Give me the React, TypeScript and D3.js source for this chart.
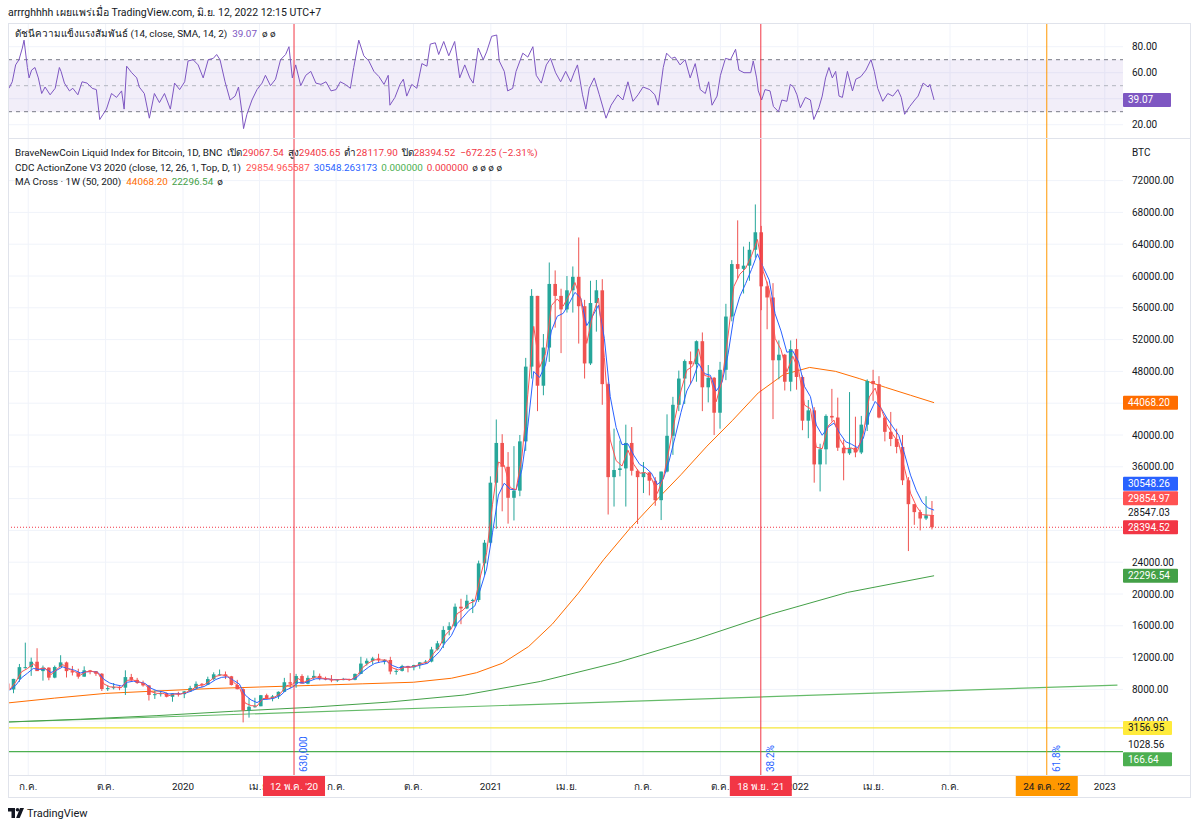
import React from 'react';
import * as d3 from 'd3';

// weekly OHLC: week start, open, high, low, close
const candles: [string, number, number, number, number][] = [
  ["2019-06-03", 8740, 8840, 7450, 7990], ["2019-06-10", 7990, 9330, 7520, 9320],
  ["2019-06-17", 9320, 11200, 8950, 10800], ["2019-06-24", 10800, 13880, 10600, 10800],
  ["2019-07-01", 10800, 12000, 9700, 11480], ["2019-07-08", 11480, 13180, 10400, 10300],
  ["2019-07-15", 10300, 11000, 9100, 10740], ["2019-07-22", 10740, 10780, 9150, 9480],
  ["2019-07-29", 9480, 11000, 9400, 10820], ["2019-08-05", 10820, 12300, 10800, 11400],
  ["2019-08-12", 11400, 11500, 9500, 10300], ["2019-08-19", 10300, 10950, 9750, 10130],
  ["2019-08-26", 10130, 10600, 9350, 9600], ["2019-09-02", 9600, 10900, 9600, 10400],
  ["2019-09-09", 10400, 10450, 9900, 10300], ["2019-09-16", 10300, 10300, 9700, 9970],
  ["2019-09-23", 9970, 10050, 7800, 8050], ["2019-09-30", 8050, 8500, 7800, 8160],
  ["2019-10-07", 8160, 8800, 8000, 8280], ["2019-10-14", 8280, 8400, 7900, 8220],
  ["2019-10-21", 8220, 10400, 7300, 9550], ["2019-10-28", 9550, 9950, 8950, 9200],
  ["2019-11-04", 9200, 9450, 8700, 8800], ["2019-11-11", 8800, 9100, 8350, 8500],
  ["2019-11-18", 8500, 8550, 6600, 7300], ["2019-11-25", 7300, 7850, 6800, 7400],
  ["2019-12-02", 7400, 7800, 7100, 7520], ["2019-12-09", 7520, 7600, 7000, 7070],
  ["2019-12-16", 7070, 7500, 6450, 7500], ["2019-12-23", 7500, 7700, 7100, 7400],
  ["2019-12-30", 7400, 7800, 6900, 7750], ["2020-01-06", 7750, 8450, 7700, 8180],
  ["2020-01-13", 8180, 9000, 8100, 8700], ["2020-01-20", 8700, 8800, 8250, 8600],
  ["2020-01-27", 8600, 9600, 8550, 9300], ["2020-02-03", 9300, 10150, 9150, 9900],
  ["2020-02-10", 9900, 10500, 9700, 9900], ["2020-02-17", 9900, 10250, 9300, 9650],
  ["2020-02-24", 9650, 9700, 8500, 8550], ["2020-03-02", 8550, 9200, 8000, 8030],
  ["2020-03-09", 8030, 8150, 3850, 5360], ["2020-03-16", 5360, 6900, 4450, 5820],
  ["2020-03-23", 5820, 6950, 5700, 5880], ["2020-03-30", 5880, 7300, 5880, 7270],
  ["2020-04-06", 7270, 7460, 6750, 6860], ["2020-04-13", 6860, 7300, 6500, 7120],
  ["2020-04-20", 7120, 7750, 6800, 7700], ["2020-04-27", 7700, 9450, 7700, 8900],
  ["2020-05-04", 8900, 10050, 8150, 8720], ["2020-05-11", 8720, 9950, 8200, 9680],
  ["2020-05-18", 9680, 9900, 8800, 8720], ["2020-05-25", 8720, 9750, 8650, 9450],
  ["2020-06-01", 9450, 10400, 9300, 9700], ["2020-06-08", 9700, 9990, 9150, 9350],
  ["2020-06-15", 9350, 9600, 9150, 9300], ["2020-06-22", 9300, 9800, 8900, 9120],
  ["2020-06-29", 9120, 9300, 8950, 9250], ["2020-07-06", 9250, 9450, 9150, 9300],
  ["2020-07-13", 9300, 9350, 9050, 9200], ["2020-07-20", 9200, 10000, 9150, 9950],
  ["2020-07-27", 9950, 12100, 9950, 11250], ["2020-08-03", 11250, 11900, 11000, 11600],
  ["2020-08-10", 11600, 12100, 11150, 11900], ["2020-08-17", 11900, 12480, 11400, 11680],
  ["2020-08-24", 11680, 11800, 11150, 11700], ["2020-08-31", 11700, 12100, 9900, 10250],
  ["2020-09-07", 10250, 10600, 9850, 10330], ["2020-09-14", 10330, 11100, 10250, 10950],
  ["2020-09-21", 10950, 10970, 10150, 10770], ["2020-09-28", 10770, 11100, 10400, 11060],
  ["2020-10-05", 11060, 11450, 10600, 11400], ["2020-10-12", 11400, 11700, 11200, 11500],
  ["2020-10-19", 11500, 13350, 11400, 13030], ["2020-10-26", 13030, 14100, 12900, 13800],
  ["2020-11-02", 13800, 15950, 13200, 15480], ["2020-11-09", 15480, 16450, 14800, 15950],
  ["2020-11-16", 15950, 18800, 15800, 18400], ["2020-11-23", 18400, 19400, 16200, 18180],
  ["2020-11-30", 18180, 19900, 18100, 19150], ["2020-12-07", 19150, 19400, 17600, 19250],
  ["2020-12-14", 19250, 24200, 19000, 23850], ["2020-12-21", 23850, 26800, 22350, 26450],
  ["2020-12-28", 26450, 34800, 26100, 34000], ["2021-01-04", 34000, 41950, 28200, 39000],
  ["2021-01-11", 39000, 40100, 30400, 36000], ["2021-01-18", 36000, 37850, 28850, 32100],
  ["2021-01-25", 32100, 38600, 29250, 33000], ["2021-02-01", 33000, 40000, 32300, 39200],
  ["2021-02-08", 39200, 49700, 38000, 48600], ["2021-02-15", 48600, 58350, 47100, 57500],
  ["2021-02-22", 57500, 57500, 43000, 46200], ["2021-03-01", 46200, 52700, 45000, 51000],
  ["2021-03-08", 51000, 61700, 49200, 59000], ["2021-03-15", 59000, 60700, 53500, 57500],
  ["2021-03-22", 57500, 58400, 50300, 55800], ["2021-03-29", 55800, 60000, 55400, 58200],
  ["2021-04-05", 58200, 61200, 55400, 59900], ["2021-04-12", 59900, 64850, 51500, 56200],
  ["2021-04-19", 56200, 57000, 47100, 49000], ["2021-04-26", 49000, 59400, 48800, 56600],
  ["2021-05-03", 56600, 59500, 53000, 58200], ["2021-05-10", 58200, 59600, 43800, 46400],
  ["2021-05-17", 46400, 46600, 30000, 34700], ["2021-05-24", 34700, 40800, 31000, 35600],
  ["2021-05-31", 35600, 39300, 34800, 35800], ["2021-06-07", 35800, 41300, 31000, 39000],
  ["2021-06-14", 39000, 41000, 34900, 35500], ["2021-06-21", 35500, 35700, 28800, 34700],
  ["2021-06-28", 34700, 36600, 32700, 35300], ["2021-07-05", 35300, 35300, 32400, 34250],
  ["2021-07-12", 34250, 34700, 31100, 31800], ["2021-07-19", 31800, 35400, 29300, 35400],
  ["2021-07-26", 35400, 42600, 35300, 39900], ["2021-08-02", 39900, 44800, 37500, 43800],
  ["2021-08-09", 43800, 48100, 43000, 47100], ["2021-08-16", 47100, 49500, 43900, 49300],
  ["2021-08-23", 49300, 50500, 46400, 48900], ["2021-08-30", 48900, 51900, 46700, 51800],
  ["2021-09-06", 51800, 52900, 43000, 46000], ["2021-09-13", 46000, 48800, 44100, 47200],
  ["2021-09-20", 47200, 47300, 40000, 42800], ["2021-09-27", 42800, 49200, 40800, 48200],
  ["2021-10-04", 48200, 56500, 46900, 54900], ["2021-10-11", 54900, 62000, 54300, 61500],
  ["2021-10-18", 61500, 67000, 59700, 60900], ["2021-10-25", 60900, 63700, 57800, 61300],
  ["2021-11-01", 61300, 64300, 59400, 63300], ["2021-11-08", 63300, 69000, 62300, 65500],
  ["2021-11-15", 65500, 66300, 55700, 58700], ["2021-11-22", 58700, 59300, 53300, 57300],
  ["2021-11-29", 57300, 59100, 42000, 49400], ["2021-12-06", 49400, 51900, 47000, 50100],
  ["2021-12-13", 50100, 50200, 45600, 46700], ["2021-12-20", 46700, 51900, 45500, 50800],
  ["2021-12-27", 50800, 52100, 45700, 47300], ["2022-01-03", 47300, 47500, 40600, 41800],
  ["2022-01-10", 41800, 44400, 39600, 43100], ["2022-01-17", 43100, 43500, 34000, 36300],
  ["2022-01-24", 36300, 38900, 32900, 38200], ["2022-01-31", 38200, 42600, 36300, 42400],
  ["2022-02-07", 42400, 45800, 41700, 42200], ["2022-02-14", 42200, 44700, 38000, 38400],
  ["2022-02-21", 38400, 39400, 34300, 37700], ["2022-02-28", 37700, 45400, 37500, 38400],
  ["2022-03-07", 38400, 42300, 37200, 37800], ["2022-03-14", 37800, 42400, 37600, 41300],
  ["2022-03-21", 41300, 47000, 40500, 46800], ["2022-03-28", 46800, 48200, 44300, 46400],
  ["2022-04-04", 46400, 47400, 42100, 42200], ["2022-04-11", 42200, 42400, 39200, 40400],
  ["2022-04-18", 40400, 42900, 38600, 39500], ["2022-04-25", 39500, 40800, 37700, 38500],
  ["2022-05-02", 38500, 40000, 33700, 34300], ["2022-05-09", 34300, 34700, 25400, 31300],
  ["2022-05-16", 31300, 31300, 28700, 30300], ["2022-05-23", 30300, 30600, 28000, 29500],
  ["2022-05-30", 29500, 32300, 29300, 29900], ["2022-06-06", 29900, 31700, 28117.9, 28394.52],
];

// CDC ActionZone fast / slow EMA, value at each week's end
const cdcFast = [
  7990, 8910, 10210, 10620, 11210, 10580, 10690, 9860, 10520, 11130,
  10560, 10260, 9810, 10220, 10270, 10060, 8680, 8320, 8290, 8240,
  9150, 9180, 8920, 8630, 7710, 7500, 7510, 7210, 7410, 7400,
  7640, 8010, 8490, 8570, 9070, 9640, 9820, 9700, 8910, 8300,
  6270, 5960, 5910, 6850, 6860, 7040, 7500, 8460, 8640, 9360,
  8920, 9290, 9570, 9420, 9340, 9190, 9230, 9280, 9220, 9730,
  10780, 11350, 11730, 11700, 11700, 10700, 10450, 10790, 10780, 10970,
  11270, 11430, 12530, 13410, 14840, 15610, 17530, 17980, 18790, 19110,
  22380, 25190, 31270, 36600, 36190, 33370, 33110, 37310, 45100, 53660,
  48510, 50230, 56280, 57120, 56210, 57580, 59180, 57120, 51520, 55030,
  57220, 49750, 39370, 36770, 36100, 38100, 36310, 35200, 35270, 34570,
  32660, 34550, 38240, 42080, 45540, 48140, 48660, 50830, 47500, 47290,
  44190, 46960, 52440, 58690, 60220, 60960, 62580, 64590, 60530, 58300,
  52160, 50740, 47950, 49920, 48110, 43760, 43300, 38470, 38280, 41120,
  41870, 39470, 38250, 38350, 37970, 40270, 44780, 45900, 43350, 41310,
  40060, 38980, 35750, 32680, 31040, 29980, 29920, 29854.97,
];
const cdcSlow = [
  7900, 8500, 9460, 10030, 10640, 10500, 10600, 10130, 10420, 10830,
  10610, 10410, 10070, 10210, 10250, 10130, 9260, 8800, 8580, 8430,
  8900, 9030, 8930, 8750, 8140, 7830, 7700, 7430, 7460, 7440,
  7570, 7830, 8190, 8360, 8760, 9240, 9520, 9570, 9140, 8680,
  7280, 6670, 6340, 6730, 6780, 6920, 7250, 7940, 8270, 8860,
  8800, 9070, 9340, 9340, 9320, 9240, 9240, 9270, 9240, 9540,
  10260, 10820, 11270, 11450, 11550, 11010, 10720, 10820, 10800, 10910,
  11110, 11280, 12010, 12760, 13910, 14760, 16290, 17090, 17950, 18500,
  20750, 23140, 27700, 32450, 33940, 33170, 33100, 35660, 41100, 47990,
  47240, 48820, 53090, 54940, 55300, 56520, 57940, 57210, 53760, 54950,
  56320, 52150, 44820, 40950, 38790, 38880, 37460, 36300, 35880, 35200,
  33770, 34450, 36740, 39710, 42810, 45540, 46950, 48990, 47730, 47510,
  45530, 46650, 50120, 54900, 57420, 59050, 60830, 62790, 61080, 59490,
  55250, 53090, 50410, 50570, 49200, 46090, 44830, 41250, 39970, 40990,
  41500, 40200, 39150, 38830, 38400, 39620, 42630, 44220, 43370, 42120,
  41020, 39960, 37580, 34950, 32990, 31530, 30840, 30548.26,
];

// MA Cross 1W: 50-week and 200-week SMA
const ma50w: [string, number][] = [
  ["2019-06-07", 6300], ["2019-08-01", 6900], ["2019-10-01", 7500], ["2019-12-01", 7800],
  ["2020-02-01", 8100], ["2020-04-01", 8300], ["2020-06-01", 8500], ["2020-08-01", 8700],
  ["2020-10-01", 8900], ["2020-11-15", 9400], ["2020-12-15", 10100], ["2021-01-15", 11300],
  ["2021-02-15", 13400], ["2021-03-15", 16200], ["2021-04-15", 20100], ["2021-05-15", 24300],
  ["2021-06-15", 28200], ["2021-07-15", 31600], ["2021-08-15", 35000], ["2021-09-15", 38600],
  ["2021-10-15", 41800], ["2021-11-15", 45300], ["2021-12-15", 47600], ["2022-01-15", 48500],
  ["2022-02-15", 48000], ["2022-03-15", 47100], ["2022-04-15", 46000], ["2022-05-15", 45000],
  ["2022-06-12", 44068.2],
];
const ma200w: [string, number][] = [
  ["2019-06-07", 3900], ["2019-09-01", 4250], ["2019-12-01", 4700], ["2020-03-01", 5250],
  ["2020-06-01", 5750], ["2020-09-01", 6400], ["2020-12-01", 7300], ["2021-03-01", 9000],
  ["2021-06-01", 11400], ["2021-09-01", 14300], ["2021-12-01", 17500], ["2022-03-01", 20200],
  ["2022-06-12", 22296.54],
];
const trendLine: [string, number][] = [["2019-06-07", 3900], ["2023-01-16", 8550]];
const hLines = [
  { price: 3156.95, color: "#f5e63a" },
  { price: 166.64, color: "#4caf50" },
];

// RSI (14) daily readings
const rsiPoints: [string, number][] = [
  ["2019-06-08",48],["2019-06-12",53],["2019-06-16",66],["2019-06-20",70],["2019-06-24",79],["2019-06-26",85],
  ["2019-06-30",64],["2019-07-02",56],["2019-07-05",62],["2019-07-09",64],["2019-07-13",56],["2019-07-17",44],
  ["2019-07-21",49],["2019-07-27",43],["2019-08-02",48],["2019-08-07",64],["2019-08-09",61],["2019-08-13",52],
  ["2019-08-19",46],["2019-08-23",48],["2019-08-29",43],["2019-09-03",53],["2019-09-09",52],["2019-09-15",48],
  ["2019-09-20",47],["2019-09-24",24],["2019-09-28",28],["2019-10-02",32],["2019-10-08",44],["2019-10-14",41],
  ["2019-10-20",46],["2019-10-23",32],["2019-10-26",65],["2019-11-01",60],["2019-11-07",56],["2019-11-10",49],
  ["2019-11-16",44],["2019-11-22",25],["2019-11-28",44],["2019-12-04",37],["2019-12-10",44],["2019-12-17",32],
  ["2019-12-22",52],["2019-12-28",47],["2020-01-03",53],["2020-01-07",69],["2020-01-13",70],["2020-01-19",66],
  ["2020-01-25",56],["2020-01-31",70],["2020-02-06",71],["2020-02-10",74],["2020-02-14",70],["2020-02-20",53],
  ["2020-02-26",39],["2020-03-03",42],["2020-03-07",49],["2020-03-11",30],["2020-03-13",17],["2020-03-17",28],
  ["2020-03-23",39],["2020-03-29",47],["2020-04-04",52],["2020-04-08",58],["2020-04-14",50],["2020-04-20",55],
  ["2020-04-26",70],["2020-05-02",74],["2020-05-06",80],["2020-05-10",56],["2020-05-14",66],["2020-05-20",50],
  ["2020-05-26",58],["2020-06-01",61],["2020-06-07",52],["2020-06-13",51],["2020-06-19",53],["2020-06-25",46],
  ["2020-07-01",47],["2020-07-06",53],["2020-07-12",51],["2020-07-18",48],["2020-07-22",64],["2020-07-28",85],
  ["2020-08-03",73],["2020-08-09",69],["2020-08-15",61],["2020-08-21",57],["2020-08-27",51],["2020-09-01",58],
  ["2020-09-03",35],["2020-09-09",41],["2020-09-15",51],["2020-09-19",55],["2020-09-23",42],["2020-09-29",51],
  ["2020-10-05",48],["2020-10-11",67],["2020-10-17",65],["2020-10-21",82],["2020-10-27",83],["2020-10-31",74],
  ["2020-11-06",84],["2020-11-12",73],["2020-11-19",84],["2020-11-25",56],["2020-12-01",66],["2020-12-07",56],
  ["2020-12-11",52],["2020-12-17",79],["2020-12-23",70],["2020-12-27",76],["2021-01-02",88],["2021-01-08",89],
  ["2021-01-11",69],["2021-01-17",61],["2021-01-21",46],["2021-01-27",48],["2021-01-31",61],["2021-02-08",75],
  ["2021-02-14",72],["2021-02-20",80],["2021-02-24",58],["2021-03-02",52],["2021-03-08",66],["2021-03-13",71],
  ["2021-03-19",60],["2021-03-25",53],["2021-03-31",61],["2021-04-06",53],["2021-04-10",60],["2021-04-14",66],
  ["2021-04-20",43],["2021-04-24",32],["2021-04-28",48],["2021-05-04",56],["2021-05-10",43],["2021-05-18",25],
  ["2021-05-24",35],["2021-06-01",43],["2021-06-07",39],["2021-06-13",53],["2021-06-19",38],["2021-06-25",43],
  ["2021-07-01",49],["2021-07-09",47],["2021-07-15",43],["2021-07-19",35],["2021-07-25",64],["2021-07-29",75],
  ["2021-08-04",71],["2021-08-08",72],["2021-08-14",66],["2021-08-20",70],["2021-08-26",56],["2021-09-01",67],
  ["2021-09-07",47],["2021-09-13",44],["2021-09-17",53],["2021-09-21",35],["2021-09-27",42],["2021-10-01",58],
  ["2021-10-07",71],["2021-10-13",70],["2021-10-19",78],["2021-10-23",62],["2021-10-29",60],["2021-11-06",60],
  ["2021-11-09",69],["2021-11-13",56],["2021-11-15",46],["2021-11-19",39],["2021-11-23",47],["2021-11-29",46],
  ["2021-12-03",34],["2021-12-09",30],["2021-12-13",39],["2021-12-19",38],["2021-12-23",51],["2021-12-27",49],
  ["2021-12-31",43],["2022-01-04",33],["2022-01-10",41],["2022-01-16",39],["2022-01-20",24],["2022-01-26",33],
  ["2022-01-30",42],["2022-02-03",56],["2022-02-07",64],["2022-02-11",56],["2022-02-15",61],["2022-02-19",42],
  ["2022-02-23",41],["2022-03-01",61],["2022-03-07",46],["2022-03-11",55],["2022-03-17",57],["2022-03-23",62],
  ["2022-03-29",70],["2022-04-02",61],["2022-04-06",48],["2022-04-12",38],["2022-04-18",44],["2022-04-24",42],
  ["2022-04-30",47],["2022-05-04",41],["2022-05-08",28],["2022-05-14",34],["2022-05-20",39],["2022-05-24",42],
  ["2022-05-30",52],["2022-06-05",49],["2022-06-07",51],["2022-06-12",39.07],
];

const priceTicks = [72000, 68000, 64000, 60000, 56000, 52000, 48000, 44000, 40000, 36000, 32000, 28000, 24000, 20000, 16000, 12000, 8000, 4000];
const rsiTicks = [80, 60, 40, 20];
const rsiLevels = [70, 50, 30];
const timeTicks: [string, string][] = [
  ["2019-07-01", "ก.ค."], ["2019-10-01", "ต.ค."], ["2020-01-01", "2020"], ["2020-04-01", "เม.ย."],
  ["2020-07-01", "ก.ค."], ["2020-10-01", "ต.ค."], ["2021-01-01", "2021"], ["2021-04-01", "เม.ย."],
  ["2021-07-01", "ก.ค."], ["2021-10-01", "ต.ค."], ["2022-01-01", "2022"], ["2022-04-01", "เม.ย."],
  ["2022-07-01", "ก.ค."], ["2022-10-01", "ต.ค."], ["2023-01-01", "2023"],
];
const timeMarkers = [
  { date: "2020-05-12", label: "12 พ.ค. '20", note: "630,000", color: "#f23645", text: "#ffffff" },
  { date: "2021-11-18", label: "18 พ.ย. '21", note: "38.2%", color: "#f23645", text: "#ffffff" },
  { date: "2022-10-24", label: "24 ต.ค. '22", note: "61.8%", color: "#ff9800", text: "#131722" },
];
// price-scale labels; the last price stays put, the others slide away from it
const scaleLabels = [
  { value: 44068.2, text: "44068.20", fill: "#ff6d00", color: "#ffffff" },
  { value: 30548.26, text: "30548.26", fill: "#2962ff", color: "#ffffff" },
  { value: 29854.97, text: "29854.97", fill: "#ff5252", color: "#ffffff" },
  { value: 28547.03, text: "28547.03", fill: "none", color: "#131722" },
  { value: 28394.52, text: "28394.52", fill: "#f23645", color: "#ffffff", last: true },
  { value: 22296.54, text: "22296.54", fill: "#43a047", color: "#ffffff" },
  { value: 3156.95, text: "3156.95", fill: "#ffeb3b", color: "#131722" },
  { value: 1028.56, text: "1028.56", fill: "none", color: "#131722" },
  { value: 166.64, text: "166.64", fill: "#4caf50", color: "#ffffff" },
];
const lastPrice = 28394.52;
const rsiLast = 39.07;

const FONT = "Roboto, 'Noto Sans', 'DejaVu Sans', sans-serif";
const UP = "#26a69a";
const DOWN = "#ef5350";
const GRID = "#f0f3fa";
const TEXT = "#131722";
const FS = 9.9;

const parse = d3.utcParse("%Y-%m-%d");

export default function App() {
  const left = 8, plotRight = 1123, axisRight = 1191;
  const rsiTop = 23, rsiBottom = 138, mainTop = 139, mainBottom = 775, frameBottom = 797;

  const x = d3.scaleUtc()
    .domain([parse("2020-01-01")!, parse("2023-01-01")!])
    .range([183, 1104.8]);
  const y = d3.scaleLinear().domain([0, 72000]).range([753, 180.6]);
  const yr = d3.scaleLinear().domain([20, 80]).range([124.7, 46.7]);

  const mid = (d: string) => d3.utcHour.offset(parse(d)!, 84);
  const weekEnd = (d: string) => d3.utcDay.offset(parse(d)!, 6);

  const priceLine = d3.line<[Date, number]>().x(d => x(d[0])).y(d => y(d[1]));
  const rsiLine = d3.line<[Date, number]>().x(d => x(d[0])).y(d => yr(d[1]));

  const fastPts: [Date, number][] = candles.map((c, i) => [weekEnd(c[0]), cdcFast[i]]);
  const slowPts: [Date, number][] = candles.map((c, i) => [weekEnd(c[0]), cdcSlow[i]]);
  const toPts = (a: [string, number][]) => a.map(d => [parse(d[0])!, d[1]] as [Date, number]);

  // stack the price-scale labels so they never overlap
  const gap = 14.5;
  const lastIdx = scaleLabels.findIndex(l => l.last);
  const labelY: number[] = scaleLabels.map(l => y(l.value));
  for (let i = lastIdx - 1; i >= 0; i--) labelY[i] = Math.min(labelY[i], labelY[i + 1] - gap);
  for (let i = lastIdx + 1; i < scaleLabels.length; i++) labelY[i] = Math.max(labelY[i], labelY[i - 1] + gap);

  // tick labels hidden under a label box
  const shownTicks = priceTicks.filter(p => labelY.every(b => Math.abs(b - y(p)) > 6));
  const shownRsiTicks = rsiTicks.filter(v => Math.abs(yr(v) - yr(rsiLast)) > 6);
  const markerXs = timeMarkers.map(m => x(parse(m.date)!));
  const shownTimeTicks = timeTicks.filter(([d]) => markerXs.every(mx => Math.abs(mx - x(parse(d)!)) > 30));

  const bodyW = 3.6;

  return (
    <div style={{ position: 'absolute', left: 0, top: 0 }}>
      <svg width={1200} height={828} style={{ display: 'block', background: '#ffffff', fontFamily: FONT }}>
        <defs>
          <clipPath id="clip-main"><rect x={left} y={mainTop} width={plotRight - left} height={mainBottom - mainTop} /></clipPath>
          <clipPath id="clip-rsi"><rect x={left} y={rsiTop} width={plotRight - left} height={rsiBottom - rsiTop} /></clipPath>
          <clipPath id="clip-axis"><rect x={plotRight} y={mainTop} width={axisRight - plotRight} height={mainBottom - mainTop} /></clipPath>
        </defs>

        <text x={8} y={16} fontSize={10.5} fill={TEXT}>arrrghhhh เผยแพร่เมื่อ TradingView.com, มิ.ย. 12, 2022 12:15 UTC+7</text>

        {/* grid */}
        {timeTicks.map(([d]) => (
          <line key={d} x1={x(parse(d)!)} x2={x(parse(d)!)} y1={rsiTop} y2={mainBottom} stroke={GRID} />
        ))}
        {priceTicks.map(p => (
          <line key={p} x1={left} x2={plotRight} y1={y(p)} y2={y(p)} stroke={GRID} />
        ))}
        {rsiTicks.map(v => (
          <line key={v} x1={left} x2={plotRight} y1={yr(v)} y2={yr(v)} stroke={GRID} />
        ))}

        {/* RSI pane */}
        <g clipPath="url(#clip-rsi)">
          <rect x={left} y={yr(70)} width={plotRight - left} height={yr(30) - yr(70)} fill="rgba(126,87,194,0.1)" />
          {rsiLevels.map(v => (
            <line key={v} x1={left} x2={plotRight} y1={yr(v)} y2={yr(v)}
              stroke={v === 50 ? "#b2b5be" : "#787b86"} strokeDasharray="4,4" />
          ))}
          <path d={rsiLine(toPts(rsiPoints)) ?? ""} fill="none" stroke="#7e57c2" strokeWidth={1} />
        </g>

        {/* main pane */}
        <g clipPath="url(#clip-main)">
          <line x1={left} x2={plotRight} y1={y(lastPrice)} y2={y(lastPrice)} stroke="#f23645" strokeDasharray="1,2" />
          {hLines.map(h => (
            <line key={h.price} x1={left} x2={plotRight} y1={y(h.price)} y2={y(h.price)} stroke={h.color} strokeWidth={1.2} />
          ))}
          <path d={priceLine(toPts(trendLine)) ?? ""} fill="none" stroke="#66bb6a" strokeWidth={1.2} />
          <path d={priceLine(toPts(ma200w)) ?? ""} fill="none" stroke="#43a047" strokeWidth={1} />
          <path d={priceLine(toPts(ma50w)) ?? ""} fill="none" stroke="#ff6d00" strokeWidth={1} />
          {candles.map(([d, o, h, l, c]) => {
            const cx = x(mid(d));
            const col = c >= o ? UP : DOWN;
            const top = y(Math.max(o, c));
            const bh = Math.max(1, Math.abs(y(o) - y(c)));
            return (
              <g key={d}>
                <line x1={cx} x2={cx} y1={y(h)} y2={y(l)} stroke={col} />
                <rect x={cx - bodyW / 2} y={top} width={bodyW} height={bh} fill={col} />
              </g>
            );
          })}
          <path d={priceLine(slowPts) ?? ""} fill="none" stroke="#2962ff" strokeWidth={1} />
          <path d={priceLine(fastPts) ?? ""} fill="none" stroke="#ff5252" strokeWidth={1} />
        </g>

        {/* vertical time markers */}
        {timeMarkers.map((m, i) => (
          <g key={m.date}>
            <line x1={markerXs[i]} x2={markerXs[i]} y1={rsiTop} y2={mainBottom + 2} stroke={m.color} strokeWidth={1} />
            <text transform={`translate(${markerXs[i] + 13},772) rotate(-90)`} fontSize={10} fill="#2962ff">{m.note}</text>
          </g>
        ))}

        {/* legends */}
        <text x={15} y={37} fontSize={FS} fill={TEXT}>
          ดัชนีความแข็งแรงสัมพันธ์ (14, close, SMA, 14, 2)
          <tspan fill="#7e57c2" dx={5}>39.07</tspan>
          <tspan dx={5} fill={TEXT}>ø ø</tspan>
        </text>
        <text x={15} y={156} fontSize={FS} fill={TEXT}>
          BraveNewCoin Liquid Index for Bitcoin, 1D, BNC
          <tspan dx={5}>เปิด</tspan><tspan fill="#f23645">29067.54</tspan>
          <tspan dx={4}>สูง</tspan><tspan fill="#f23645">29405.65</tspan>
          <tspan dx={4}>ต่ำ</tspan><tspan fill="#f23645">28117.90</tspan>
          <tspan dx={4}>ปิด</tspan><tspan fill="#f23645">28394.52</tspan>
          <tspan dx={5} fill="#f23645">−672.25 (−2.31%)</tspan>
        </text>
        <text x={15} y={170.5} fontSize={FS} fill={TEXT}>
          CDC ActionZone V3 2020 (close, 12, 26, 1, Top, D, 1)
          <tspan dx={5} fill="#ff5252">29854.965587</tspan>
          <tspan dx={4} fill="#2962ff">30548.263173</tspan>
          <tspan dx={4} fill="#4caf50">0.000000</tspan>
          <tspan dx={4} fill="#f23645">0.000000</tspan>
          <tspan dx={4} fill={TEXT}>ø ø ø ø</tspan>
        </text>
        <text x={15} y={185} fontSize={FS} fill={TEXT}>
          MA Cross · 1W (50, 200)
          <tspan dx={5} fill="#ff6d00">44068.20</tspan>
          <tspan dx={4} fill="#43a047">22296.54</tspan>
          <tspan dx={4} fill={TEXT}>ø</tspan>
        </text>

        {/* RSI scale */}
        {shownRsiTicks.map(v => (
          <text key={v} x={1132} y={yr(v) + 3.5} fontSize={10} fill={TEXT}>{v.toFixed(2)}</text>
        ))}
        <rect x={1123} y={yr(rsiLast) - 7} width={48} height={14} fill="#7e57c2" rx={1} />
        <text x={1128} y={yr(rsiLast) + 3.5} fontSize={10} fill="#ffffff">{rsiLast.toFixed(2)}</text>

        {/* price scale */}
        <text x={1132} y={156} fontSize={10} fill={TEXT}>BTC</text>
        <g clipPath="url(#clip-axis)">
          {shownTicks.map(p => (
            <text key={p} x={1132} y={y(p) + 3.5} fontSize={10} fill={TEXT}>{p.toFixed(2)}</text>
          ))}
          {scaleLabels.map((l, i) => (
            <g key={l.text}>
              {l.fill !== "none" && (
                <rect x={1123} y={labelY[i] - 7} width={l.text.length > 7 ? 55 : 49} height={14} fill={l.fill} rx={1} />
              )}
              <text x={1128} y={labelY[i] + 3.5} fontSize={10} fill={l.color}>{l.text}</text>
            </g>
          ))}
        </g>

        {/* time scale */}
        {shownTimeTicks.map(([d, t]) => (
          <text key={d} x={x(parse(d)!)} y={790} fontSize={FS} fill={TEXT} textAnchor="middle">{t}</text>
        ))}
        {timeMarkers.map((m, i) => (
          <g key={m.date + "-box"}>
            <rect x={markerXs[i] - 31} y={776} width={62} height={20} fill={m.color} />
            <text x={markerXs[i]} y={790} fontSize={FS} fill={m.text} textAnchor="middle">{m.label}</text>
          </g>
        ))}

        {/* frame */}
        <rect x={left + 0.5} y={rsiTop + 0.5} width={axisRight - left - 1} height={frameBottom - rsiTop} fill="none" stroke="#e0e3eb" />
        <line x1={left} x2={axisRight} y1={rsiBottom + 0.5} y2={rsiBottom + 0.5} stroke="#e0e3eb" />
        <line x1={left} x2={axisRight} y1={mainBottom + 0.5} y2={mainBottom + 0.5} stroke="#e0e3eb" />

        {/* brand */}
        <path d="M8 808 h7 v10 h-3.5 v-6.5 h-3.5 z" fill={TEXT} />
        <circle cx={17.5} cy={809.8} r={1.8} fill={TEXT} />
        <path d="M20 808 h4 l-4.3 10 h-3.6 z" fill={TEXT} />
        <text x={27} y={817} fontSize={11} fill={TEXT}>TradingView</text>
      </svg>
    </div>
  );
}
